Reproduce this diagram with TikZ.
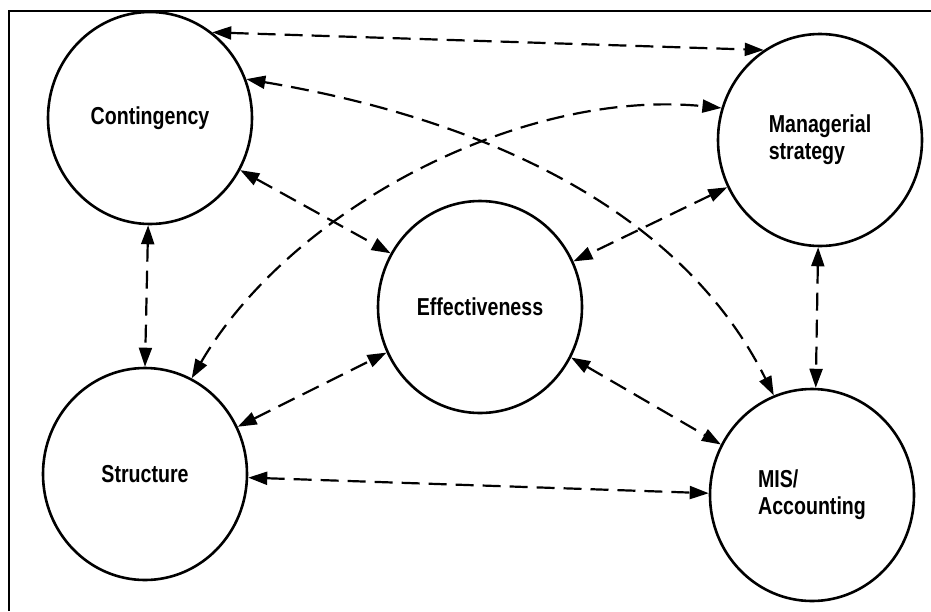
\documentclass[tikz,border=0pt]{standalone}
\usepackage{fontspec}
\newfontfamily\lblfont[FakeStretch=0.8]{Liberation Sans}
\usetikzlibrary{arrows.meta,shapes.geometric}
\begin{document}
\begin{tikzpicture}[x=1pt,y=-1pt,
  factor/.style={draw, ellipse, line width=2.6pt, minimum width=204pt,
    minimum height=212pt, inner sep=0pt, align=left,
    font=\lblfont\bfseries\fontsize{24.5}{27}\selectfont},
  link/.style={line width=2.2pt, dash pattern=on 18pt off 9pt,
    {Triangle[length=19pt,width=13pt]}-{Triangle[length=19pt,width=13pt]}}]
\useasboundingbox (0,0) rectangle (931,611);
% frame edges
\draw[line width=2.4pt] (9,611) -- (9,11) -- (931,11);

% the five factors
\node[factor] (C) at (150,118) {Contingency};
\node[factor] (M) at (820,140) {Managerial\\strategy};
\node[factor] (E) at (480,307) {Effectiveness};
\node[factor] (S) at (145,474) {Structure};
\node[factor] (X) at (812,495) {MIS/\\Accounting};

% two-way links
\draw[link] (C.54) -- (M.122);
\draw[link] (C.22) .. controls (490,120) and (683,213) .. (X.111);
\draw[link] (S.64) .. controls (290,210) and (520,88) .. (M.162);
\draw[link] (C.-30) -- (E.149);
\draw[link] (M.-153) -- (E.26);
\draw[link] (C.-91) -- (S.90);
\draw[link] (M.-91) -- (X.88);
\draw[link] (S.27) -- (E.-154);
\draw[link] (E.-29) -- (X.151);
\draw[link] (S.-2) -- (X.179);
\end{tikzpicture}
\end{document}
